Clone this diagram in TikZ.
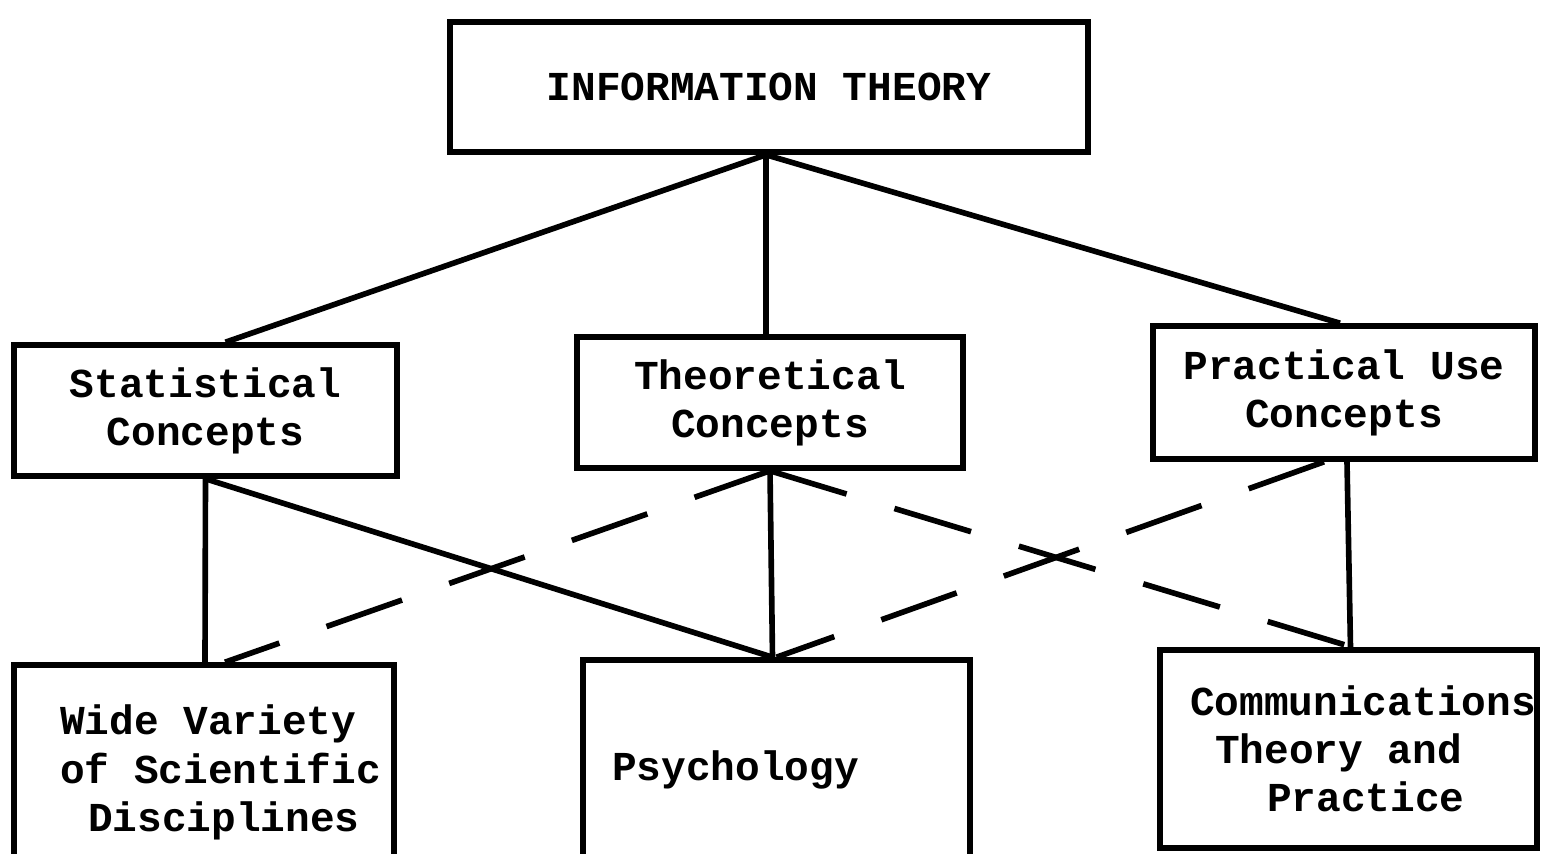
\documentclass[tikz,border=0pt]{standalone}
\usepackage{fontspec}
\setmonofont{Liberation Mono}
\usepackage{tikz}
\usetikzlibrary{calc}

\tikzset{
	conceptbox/.style={draw, line width=1.6pt, align=center, inner sep=0pt,
		font=\fontsize{11.7}{13.7}\selectfont\ttfamily\bfseries},
	link/.style={line width=1.6pt},
	dashlink/.style={line width=1.6pt, dash pattern=on 0.8cm off 0.5cm}
}

\begin{document}
\begin{tikzpicture}
				\useasboundingbox (0,0) rectangle (15.41,8.53);
				\clip (0,0) rectangle (15.41,8.53);
				
				\node[conceptbox, minimum width=6.38cm, minimum height=1.30cm] (info) at (7.69,7.66) {INFORMATION THEORY};
				
				\node[conceptbox, minimum width=3.83cm, minimum height=1.31cm] (stat) at (2.055,4.425) {Statistical\\Concepts};
				\node[conceptbox, minimum width=3.86cm, minimum height=1.31cm] (theo) at (7.70,4.505) {Theoretical\\Concepts};
				\node[conceptbox, minimum width=3.82cm, minimum height=1.33cm] (prac) at (13.44,4.605) {Practical Use\\Concepts};
				
				\node[conceptbox, minimum width=3.80cm, minimum height=2.15cm, align=left] (wide) at (2.04,0.805) {\hspace*{0.33cm}Wide Variety\\\hspace*{0.33cm}of Scientific\\\hspace*{0.61cm}Disciplines};
				\node[conceptbox, minimum width=3.87cm, minimum height=2.20cm, text width=3.29cm, inner xsep=0.29cm, align=left] (psych) at (7.765,0.83) {Psychology};
				\node[conceptbox, minimum width=3.77cm, minimum height=1.98cm, align=left] (comm) at (13.485,1.04) {\hspace*{0.29cm}Communications\\\hspace*{0.54cm}Theory and\\\hspace*{1.06cm}Practice};
				
				\draw[link] ([xshift=-0.03cm]info.south) -- ([xshift=0.2cm]stat.north);
				\draw[link] ([xshift=-0.03cm]info.south) -- ([xshift=-0.04cm]theo.north);
				\draw[link] ([xshift=-0.03cm]info.south) -- ([xshift=-0.04cm]prac.north);
				
				\draw[link] (stat.south) -- ([xshift=0.01cm]wide.north);
				\draw[link] (stat.south) -- ([xshift=-0.04cm]psych.north);
				\draw[link] (theo.south) -- ([xshift=-0.04cm]psych.north);
				\draw[link] ([xshift=0.03cm]prac.south) -- ([xshift=0.02cm]comm.north);
				
				\draw[dashlink] (theo.south) -- ([xshift=0.21cm]wide.north);
				\draw[dashlink] (theo.south) -- ([xshift=0.04cm]comm.north);
				\draw[dashlink] ([xshift=-0.2cm]prac.south) -- (psych.north);
			\end{tikzpicture}
\end{document}
